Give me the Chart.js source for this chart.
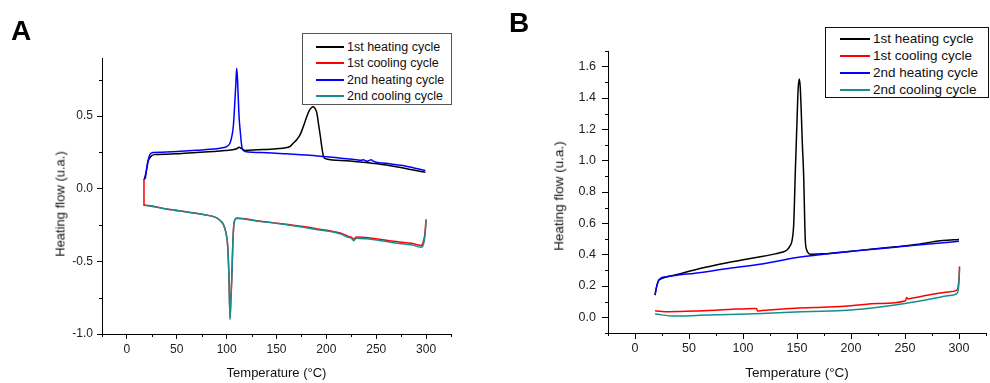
<!DOCTYPE html>
<html>
<head>
<meta charset="utf-8">
<script src="https://cdn.jsdelivr.net/npm/chart.js@4.4.0/dist/chart.umd.min.js"></script>
<style>
  html, body { margin: 0; padding: 0; background: #fff }
  body { width: 990px; height: 383px; position: relative; overflow: hidden; font-family: Arial, "Liberation Sans", sans-serif; color: #000 }
  canvas { position: absolute; top: 0 }
  .panel { position: absolute; font-weight: bold; font-size: 28px; line-height: 28px }
  .legend { position: absolute; box-sizing: border-box; background: #fff }
  .row { position: absolute; left: 0; right: 0; display: flex; align-items: center; white-space: nowrap; color: #111 }
  .swatch { display: inline-block; height: 2px }
  .ytitle { position: absolute; white-space: nowrap; color: #111; transform: translate(-50%, -50%) rotate(-90deg); line-height: 1 }
</style>
</head>
<body>
<canvas id="chartA" width="495" height="383" style="left:0"></canvas>
<canvas id="chartB" width="495" height="383" style="left:495px"></canvas>
<div class="panel" style="left:11px;top:17px">A</div>
<div class="panel" style="left:509px;top:9px">B</div>
<div class="ytitle" style="left:60px;top:204px;font-size:13px">Heating flow (u.a.)</div>
<div class="ytitle" style="left:559px;top:196px;font-size:13.5px">Heating flow (u.a.)</div>
<div class="legend" id="legendA" style="left:302px;top:33px;width:150px;height:72px;border:1px solid #555"></div>
<div class="legend" id="legendB" style="left:825px;top:27px;width:164px;height:71px;border:1px solid #111"></div>
<script>
const seriesNames = ["1st heating cycle", "1st cooling cycle", "2nd heating cycle", "2nd cooling cycle"]
const seriesColors = ["#000000", "#ff0000", "#0000ff", "#148f8f"]

// tick values
const xTicks = [0, 50, 100, 150, 200, 250, 300]
const xMinor = [-25, 25, 75, 125, 175, 225, 275, 325]
const yTicksA = [-1.0, -0.5, 0.0, 0.5]
const yMinorA = [-0.75, -0.25, 0.25, 0.75]
const yTicksB = [0.0, 0.2, 0.4, 0.6, 0.8, 1.0, 1.2, 1.4, 1.6]
const yMinorB = [-0.1, 0.1, 0.3, 0.5, 0.7, 0.9, 1.1, 1.3, 1.5, 1.7]

// panel A
const aHeat1T = [17.1, 18, 19.7, 21.3, 24.8, 28, 40, 49.9, 70, 90, 100, 106, 110, 112.4, 115, 118.5, 130, 150, 163.6, 167, 170, 173.7, 177, 180.4, 183, 185, 186.8, 188.5, 190.5, 192, 193.8, 195.4, 197.1, 200, 220, 240, 260, 273, 290, 299.3]
const aHeat1Y = [0.062, 0.08, 0.13, 0.19, 0.227, 0.235, 0.238, 0.241, 0.25, 0.258, 0.264, 0.268, 0.275, 0.285, 0.276, 0.264, 0.268, 0.276, 0.291, 0.315, 0.335, 0.372, 0.43, 0.498, 0.54, 0.558, 0.565, 0.555, 0.52, 0.452, 0.37, 0.29, 0.222, 0.205, 0.193, 0.18, 0.163, 0.148, 0.125, 0.113]
const aCool1T = [17.1, 17.1, 18.1, 40, 60, 75, 83, 90, 94, 97, 99.5, 101.1, 102.3, 103.4, 104.3, 105.1, 106.1, 107.4, 110.1, 130, 160, 190, 214, 222, 225, 227.5, 230, 240, 255, 273, 285, 295, 297, 298.8, 300]
const aCool1Y = [0.067, -0.113, -0.113, -0.14, -0.16, -0.175, -0.185, -0.2, -0.222, -0.25, -0.31, -0.4, -0.6, -0.89, -0.75, -0.627, -0.397, -0.236, -0.202, -0.22, -0.245, -0.275, -0.305, -0.328, -0.333, -0.347, -0.333, -0.335, -0.35, -0.367, -0.376, -0.39, -0.37, -0.31, -0.21]
const aHeat2T = [17.6, 18.5, 20, 21.4, 23, 26.4, 35, 49.9, 70, 90, 96, 100, 103.4, 105.5, 106.7, 107.6, 108.4, 109.3, 110.1, 111, 111.8, 112.6, 113.5, 115.2, 116.5, 118.5, 140, 160, 180, 197.1, 215, 230, 235, 237, 239, 241, 243, 245, 247, 250, 260, 266, 280, 299.3]
const aHeat2Y = [0.067, 0.075, 0.15, 0.2, 0.235, 0.25, 0.252, 0.257, 0.265, 0.275, 0.282, 0.29, 0.315, 0.37, 0.43, 0.52, 0.62, 0.73, 0.83, 0.74, 0.6, 0.48, 0.406, 0.29, 0.265, 0.257, 0.248, 0.24, 0.232, 0.222, 0.21, 0.2, 0.196, 0.2, 0.193, 0.19, 0.195, 0.2, 0.19, 0.183, 0.175, 0.168, 0.155, 0.125]
const aCool2T = [18.1, 40, 60, 75, 83, 90, 94, 97, 99.5, 101.1, 102.3, 103.4, 104.3, 105.1, 106.1, 107.4, 110.1, 130, 160, 190, 214, 222, 225, 227.5, 230, 240, 255, 273, 285, 295, 297, 298.8, 300]
const aCool2Y = [-0.113, -0.14, -0.16, -0.175, -0.185, -0.2, -0.222, -0.25, -0.31, -0.4, -0.6, -0.9, -0.75, -0.627, -0.397, -0.236, -0.205, -0.222, -0.248, -0.28, -0.31, -0.335, -0.34, -0.358, -0.34, -0.345, -0.358, -0.377, -0.386, -0.402, -0.39, -0.33, -0.22]

// panel B
const bHeat1T = [18.6, 19.5, 21.6, 24, 27.8, 40, 54.1, 70, 86.5, 100, 116, 129.8, 136, 140.7, 143, 145.4, 147, 148.4, 150, 151, 152.1, 153, 154, 155, 156.1, 157.7, 159, 160.8, 163, 170, 179.4, 210.3, 241.2, 260, 272, 285, 300]
const bHeat1Y = [0.142, 0.18, 0.232, 0.245, 0.255, 0.275, 0.301, 0.326, 0.35, 0.367, 0.386, 0.405, 0.415, 0.43, 0.45, 0.49, 0.6, 0.92, 1.25, 1.45, 1.522, 1.47, 1.3, 1.1, 0.92, 0.49, 0.43, 0.408, 0.403, 0.405, 0.408, 0.429, 0.45, 0.465, 0.478, 0.49, 0.497]
const bCool1T = [18.6, 31, 55.6, 86.5, 111, 112.5, 113.5, 117.5, 148.4, 179.4, 200, 225, 250.5, 251.5, 252.5, 254, 272, 290, 297.6, 299.3, 300, 300.5]
const bCool1Y = [0.042, 0.036, 0.04, 0.05, 0.057, 0.055, 0.041, 0.043, 0.058, 0.066, 0.074, 0.088, 0.106, 0.126, 0.118, 0.119, 0.142, 0.162, 0.172, 0.2, 0.25, 0.325]
const bHeat2T = [18.6, 19.5, 21.6, 24, 27.8, 40, 55.6, 86.5, 117.5, 148.4, 179.4, 210, 241, 272, 300]
const bHeat2Y = [0.142, 0.18, 0.232, 0.25, 0.258, 0.27, 0.282, 0.312, 0.34, 0.38, 0.406, 0.428, 0.448, 0.468, 0.485]
const bCool2T = [18.6, 37, 60, 86.5, 117.5, 148.4, 179.4, 200, 225, 250, 272, 290, 297.6, 299.3, 300, 300.5]
const bCool2Y = [0.021, 0.008, 0.013, 0.018, 0.024, 0.034, 0.04, 0.047, 0.065, 0.089, 0.115, 0.138, 0.15, 0.175, 0.23, 0.31]

const pts = (T, Y) => T.map((t, i) => ({ x: t, y: Y[i] }))

// short minor tick marks, Chart.js has no minor ticks of its own
const minorTicks = {
  id: "minorTicks",
  afterDraw(chart, args, opts) {
    const { ctx, scales: { x, y } } = chart
    ctx.save()
    ctx.strokeStyle = "#000"
    ctx.lineWidth = 1
    ctx.beginPath()
    opts.x.forEach(v => {
      const px = Math.round(x.getPixelForValue(v)) + 0.5
      ctx.moveTo(px, x.top)
      ctx.lineTo(px, x.top + opts.len)
    })
    opts.y.forEach(v => {
      const py = Math.round(y.getPixelForValue(v)) + 0.5
      ctx.moveTo(y.right, py)
      ctx.lineTo(y.right - opts.len, py)
    })
    ctx.stroke()
    ctx.restore()
  }
}

function makeChart(id, o) {
  const datasets = o.series.map((s, i) => ({
    label: seriesNames[i],
    data: pts(s[0], s[1]),
    borderColor: seriesColors[i],
    borderWidth: 1.5,
    pointRadius: 0,
    fill: false,
    cubicInterpolationMode: "monotone",
    order: 4 - i
  }))
  const grid = { drawOnChartArea: false, drawTicks: true, tickLength: o.tickLen, color: "#000", lineWidth: 1 }
  const border = { display: true, color: "#000", width: 1 }
  return new Chart(document.getElementById(id), {
    type: "line",
    data: { datasets },
    plugins: [minorTicks],
    options: {
      responsive: false,
      animation: false,
      events: [],
      layout: { padding: o.pad },
      plugins: {
        legend: { display: false },
        tooltip: { enabled: false },
        minorTicks: { x: xMinor, y: o.yMinor, len: 3 }
      },
      scales: {
        x: {
          type: "linear",
          min: -25, max: 325,
          grid, border,
          afterBuildTicks: s => { s.ticks = xTicks.map(v => ({ value: v })) },
          afterFit: s => { s.height = o.xHeight },
          ticks: { autoSkip: false, maxRotation: 0, padding: o.xPad, color: "#222", font: { size: o.tickSize }, callback: v => String(v) },
          title: { display: true, text: "Temperature (°C)", color: "#111", font: { size: o.titleSize }, padding: { top: 0, bottom: 2 } }
        },
        y: {
          type: "linear",
          min: o.yMin, max: o.yMax,
          grid, border,
          afterBuildTicks: s => { s.ticks = o.yTicks.map(v => ({ value: v })) },
          afterFit: s => { s.width = o.yWidth },
          ticks: { autoSkip: false, padding: o.yPad, color: "#222", font: { size: o.tickSize }, callback: v => v.toFixed(1) }
        }
      }
    }
  })
}

function makeLegend(id, o) {
  const box = document.getElementById(id)
  seriesNames.forEach((n, i) => {
    const row = document.createElement("div")
    row.className = "row"
    row.style.top = (o.first + i * o.step - 8) + "px"
    row.style.height = "16px"
    row.style.fontSize = o.size + "px"
    row.innerHTML = `<span class="swatch" style="margin-left:${o.indent}px;width:${o.len}px;background:${seriesColors[i]}"></span><span style="margin-left:3px">${n}</span>`
    box.appendChild(row)
  })
}

Chart.defaults.font.family = 'Arial, "Liberation Sans", sans-serif'

makeChart("chartA", {
  series: [[aHeat1T, aHeat1Y], [aCool1T, aCool1Y], [aHeat2T, aHeat2Y], [aCool2T, aCool2Y]],
  yMin: -1.0, yMax: 0.9, yTicks: yTicksA, yMinor: yMinorA,
  pad: { left: 0, top: 58, right: 44, bottom: 0 },
  yWidth: 102, xHeight: 49, tickLen: 5, xPad: 3, yPad: 4,
  tickSize: 12, titleSize: 13
})
makeChart("chartB", {
  series: [[bHeat1T, bHeat1Y], [bCool1T, bCool1Y], [bHeat2T, bHeat2Y], [bCool2T, bCool2Y]],
  yMin: -0.1, yMax: 1.7, yTicks: yTicksB, yMinor: yMinorB,
  pad: { left: 0, top: 51, right: 4, bottom: 0 },
  yWidth: 113, xHeight: 50, tickLen: 6, xPad: 2, yPad: 6,
  tickSize: 12.5, titleSize: 13.5
})

makeLegend("legendA", { first: 12.5, step: 16.6, indent: 13, len: 28, size: 12.5 })
makeLegend("legendB", { first: 10.5, step: 17, indent: 14, len: 30, size: 13.5 })
</script>
</body>
</html>
